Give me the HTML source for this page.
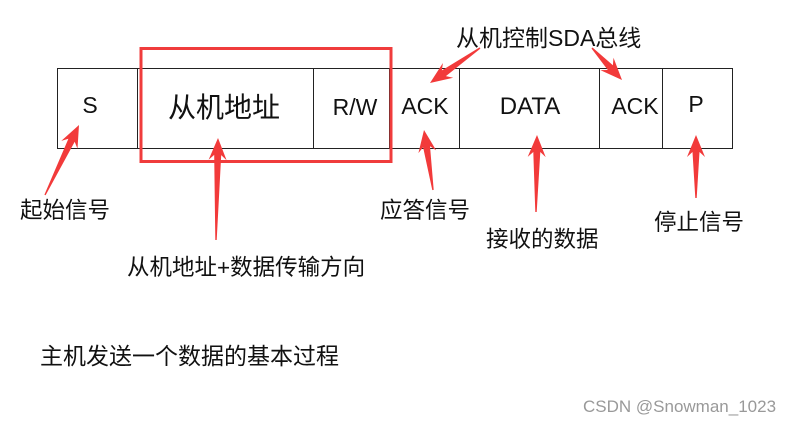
<!DOCTYPE html>
<html><head><meta charset="utf-8"><style>
body{margin:0;background:#fff;width:787px;height:426px;overflow:hidden;position:relative;font-family:"Liberation Sans","Noto Sans CJK SC",sans-serif;}
.t{position:absolute;white-space:nowrap;color:#111;}
</style></head><body>
<svg width="787" height="426" style="position:absolute;left:0;top:0">
<rect x="57.5" y="68.5" width="675" height="80" fill="#fff" stroke="#222" stroke-width="1"/>
<g stroke="#222" stroke-width="1">
<line x1="137.5" y1="68" x2="137.5" y2="148"/>
<line x1="313.5" y1="68" x2="313.5" y2="148"/>
<line x1="389.5" y1="68" x2="389.5" y2="148"/>
<line x1="459.5" y1="68" x2="459.5" y2="148"/>
<line x1="599.5" y1="68" x2="599.5" y2="148"/>
<line x1="662.5" y1="68" x2="662.5" y2="148"/>
</g>
<rect x="141" y="48.5" width="250" height="113" fill="none" stroke="#f03c3c" stroke-width="3"/>
<g id="arr" fill="#f23a3a"></g>
<g font-family="Liberation Sans, Noto Sans CJK SC, sans-serif" fill="#111">
<text x="90" y="113" font-size="23" text-anchor="middle">S</text>
<text x="224" y="117" font-size="28" text-anchor="middle">从机地址</text>
<text x="355" y="115" font-size="23" text-anchor="middle">R/W</text>
<text x="425" y="114" font-size="23" text-anchor="middle">ACK</text>
<text x="530" y="114" font-size="24" text-anchor="middle">DATA</text>
<text x="635" y="114" font-size="23" text-anchor="middle">ACK</text>
<text x="696" y="112" font-size="23" text-anchor="middle">P</text>
</g>
</svg>
<div class="t" style="left:456px;top:19px;font-size:23px">从机控制SDA总线</div>
<div class="t" style="left:20px;top:193px;font-size:22.5px">起始信号</div>
<div class="t" style="left:127px;top:250px;font-size:22.5px">从机地址+数据传输方向</div>
<div class="t" style="left:380px;top:193px;font-size:22.5px">应答信号</div>
<div class="t" style="left:486px;top:222px;font-size:22.5px">接收的数据</div>
<div class="t" style="left:654px;top:205px;font-size:22.5px">停止信号</div>
<div class="t" style="left:40px;top:337px;font-size:23px">主机发送一个数据的基本过程</div>
<div class="t" style="left:583px;top:397px;font-size:17px;color:#999">CSDN @Snowman_1023</div>
<script>
var A=[[45,195,79,125],[216,240,218,138],[433,190,424,130],[480,48,430,83],[592,48,622,80],[536,212,537,135],[696,198,696,135]];
var g=document.getElementById('arr'),h='';
A.forEach(function(a){var dx=a[2]-a[0],dy=a[3]-a[1],L=Math.hypot(dx,dy),ux=dx/L,uy=dy/L,px=-uy,py=ux;
var hl=22,bx=a[2]-ux*hl,by=a[3]-uy*hl,nx=a[2]-ux*(hl-5),ny=a[3]-uy*(hl-5);
function p(x,y){return x.toFixed(1)+','+y.toFixed(1)}
h+='<polygon points="'+[p(a[0]+px*0.7,a[1]+py*0.7),p(nx+px*3.5,ny+py*3.5),p(bx+px*9,by+py*9),p(a[2],a[3]),p(bx-px*9,by-py*9),p(nx-px*3.5,ny-py*3.5),p(a[0]-px*0.7,a[1]-py*0.7)].join(' ')+'"/>';});
g.innerHTML=h;
</script>
</body></html>
